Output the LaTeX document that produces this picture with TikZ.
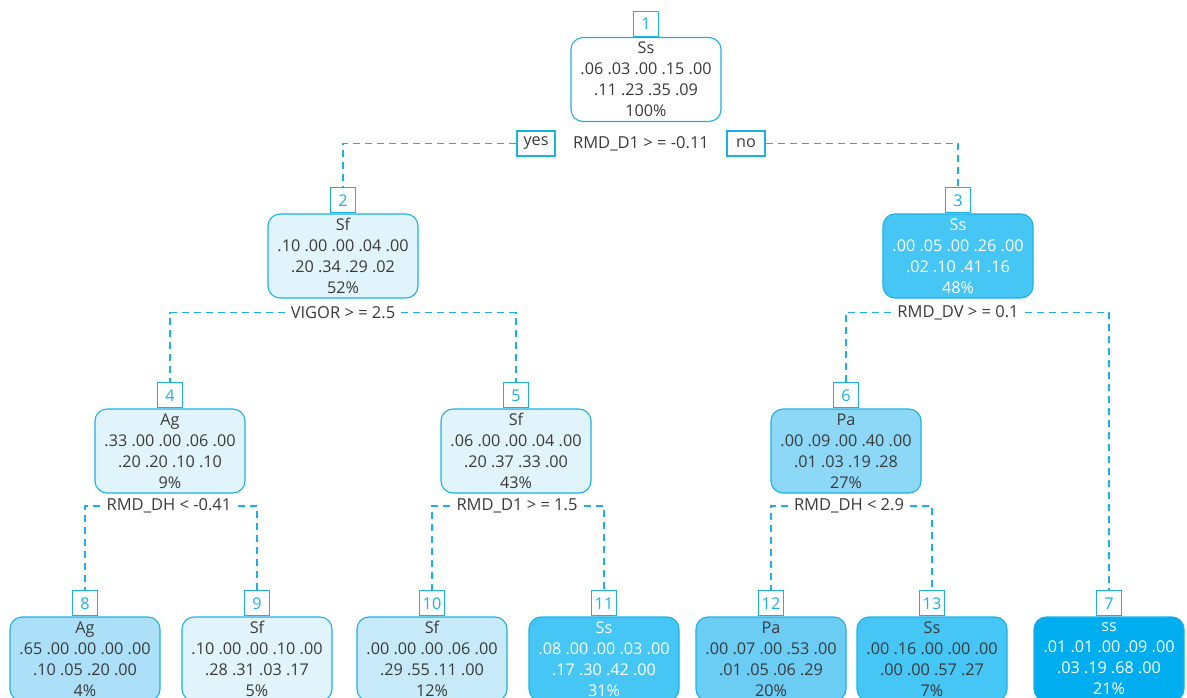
\documentclass[tikz,border=0pt]{standalone}
\usepackage{fontspec}
\setmainfont{Open Sans}
\definecolor{bord}{HTML}{1DB0E6}
\definecolor{txt}{HTML}{3A3A3A}
\definecolor{cl}{HTML}{E1F3FB}
\definecolor{c8}{HTML}{ABE0F8}
\definecolor{c10}{HTML}{C7EAF9}
\definecolor{c6}{HTML}{8DD8F6}
\definecolor{c12}{HTML}{6BCDF4}
\definecolor{cm}{HTML}{45C6F4}
\definecolor{c7}{HTML}{00ADEE}
\begin{document}
\begin{tikzpicture}[x=1pt,y=-1pt,
  tn/.style={draw=bord, line width=1.1pt, rounded corners=12pt, minimum width=150pt, minimum height=84pt, inner sep=0pt, align=center, font=\fontsize{16.2}{21}\selectfont, text=txt},
  numb/.style={draw=bord, fill=white, line width=1.1pt, text=bord, minimum height=25pt, minimum width=25pt, inner xsep=3pt, inner ysep=0pt, font=\fontsize{16.2}{18}\selectfont},
  yn/.style={numb, text=txt, minimum width=38pt},
  splitlab/.style={text=txt, inner xsep=6pt, inner ysep=2pt, font=\fontsize{16.5}{18}\selectfont},
  conn/.style={draw=bord, dash pattern=on 7pt off 5pt, line width=1.1pt}]
\useasboundingbox (0,0) rectangle (1187,698);
% level 0
\node[tn, fill=white] (b1) at (646,79.5) {Ss\\.06 .03 .00 .15 .00\\.11 .23 .35 .09\\100\%};
\node[numb, anchor=south] (l1) at (b1.north) {1};
\node[splitlab] (s1) at (641,143.5) {RMD\_D1 > = -0.11};
\node[yn] (yes) at (536,143.5) {yes};
\node[yn] (no) at (746,143.5) {no};
% level 1
\node[tn, fill=cl] (b2) at (343,256) {Sf\\.10 .00 .00 .04 .00\\.20 .34 .29 .02\\52\%};
\node[numb, anchor=south] (l2) at (b2.north) {2};
\node[tn, fill=cm, text=white] (b3) at (958,256) {Ss\\.00 .05 .00 .26 .00\\.02 .10 .41 .16\\48\%};
\node[numb, anchor=south] (l3) at (b3.north) {3};
\node[splitlab] (s2) at (343,312.5) {VIGOR > = 2.5};
\node[splitlab] (s3) at (958,312.5) {RMD\_DV > = 0.1};
% level 2
\node[tn, fill=cl] (b4) at (170,451) {Ag\\.33 .00 .00 .06 .00\\.20 .20 .10 .10\\9\%};
\node[numb, anchor=south] (l4) at (b4.north) {4};
\node[tn, fill=cl] (b5) at (516,451) {Sf\\.06 .00 .00 .04 .00\\.20 .37 .33 .00\\43\%};
\node[numb, anchor=south] (l5) at (b5.north) {5};
\node[tn, fill=c6] (b6) at (846,451) {Pa\\.00 .09 .00 .40 .00\\.01 .03 .19 .28\\27\%};
\node[numb, anchor=south] (l6) at (b6.north) {6};
\node[splitlab] (s4) at (169,506) {RMD\_DH < -0.41};
\node[splitlab] (s5) at (517,506) {RMD\_D1 > = 1.5};
\node[splitlab] (s6) at (849,506) {RMD\_DH < 2.9};
% level 3
\node[tn, fill=c8] (b8) at (85,659) {Ag\\.65 .00 .00 .00 .00\\.10 .05 .20 .00\\4\%};
\node[numb, anchor=south] (l8) at (b8.north) {8};
\node[tn, fill=cl] (b9) at (257,659) {Sf\\.10 .00 .00 .10 .00\\.28 .31 .03 .17\\5\%};
\node[numb, anchor=south] (l9) at (b9.north) {9};
\node[tn, fill=c10] (b10) at (432,659) {Sf\\.00 .00 .00 .06 .00\\.29 .55 .11 .00\\12\%};
\node[numb, anchor=south] (l10) at (b10.north) {10};
\node[tn, fill=cm, text=white] (b11) at (604,659) {Ss\\.08 .00 .00 .03 .00\\.17 .30 .42 .00\\31\%};
\node[numb, anchor=south] (l11) at (b11.north) {11};
\node[tn, fill=c12] (b12) at (771,659) {Pa\\.00 .07 .00 .53 .00\\.01 .05 .06 .29\\20\%};
\node[numb, anchor=south] (l12) at (b12.north) {12};
\node[tn, fill=cm] (b13) at (932,659) {Ss\\.00 .16 .00 .00 .00\\.00 .00 .57 .27\\7\%};
\node[numb, anchor=south] (l13) at (b13.north) {13};
\node[tn, fill=c7, text=white] (b7) at (1109,659) {ss\\.01 .01 .00 .09 .00\\.03 .19 .68 .00\\21\%};
\node[numb, anchor=south] (l7) at (b7.north) {7};
% connectors
\draw[conn] (yes.west) -| (l2.north);
\draw[conn] (no.east) -| (l3.north);
\draw[conn] (s2.west) -| (l4.north);
\draw[conn] (s2.east) -| (l5.north);
\draw[conn] (s3.west) -| (l6.north);
\draw[conn] (s3.east) -| (l7.north);
\draw[conn] (s4.west) -| (l8.north);
\draw[conn] (s4.east) -| (l9.north);
\draw[conn] (s5.west) -| (l10.north);
\draw[conn] (s5.east) -| (l11.north);
\draw[conn] (s6.west) -| (l12.north);
\draw[conn] (s6.east) -| (l13.north);
\end{tikzpicture}
\end{document}
